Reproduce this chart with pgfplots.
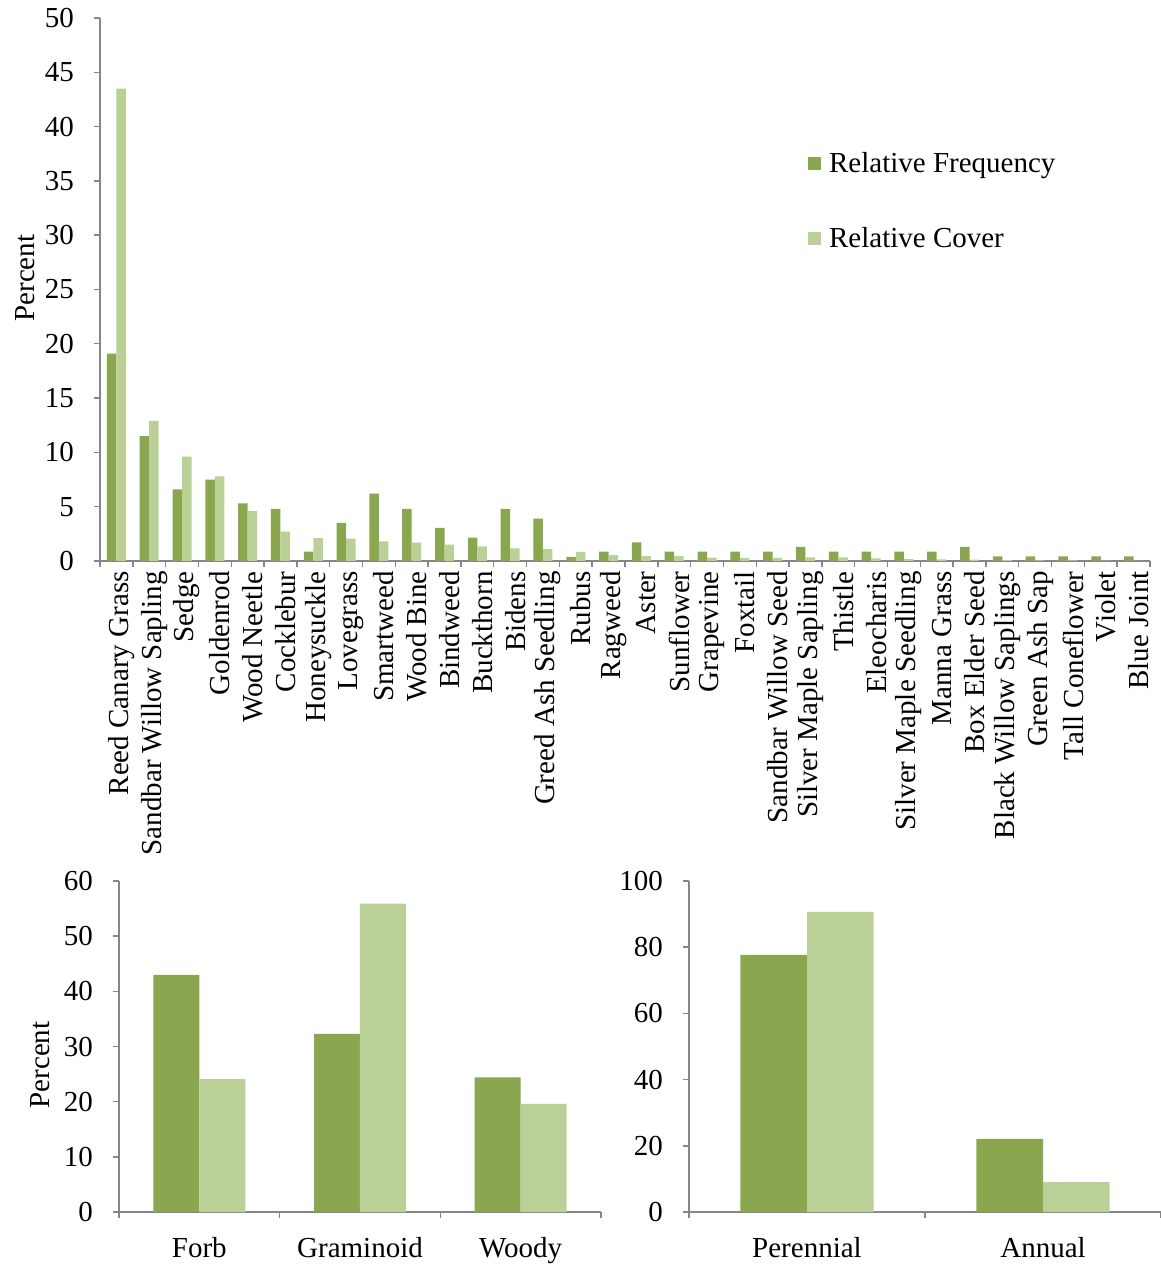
\documentclass[border=0pt]{standalone}
\usepackage{fontspec}
\setmainfont{Liberation Serif}
\usepackage{pgfplots}
\pgfplotsset{compat=1.18}
\definecolor{dgreen}{RGB}{138,166,78}
\definecolor{lgreen}{RGB}{187,208,151}
\definecolor{axgray}{RGB}{134,134,134}
\newcommand\fsz{\fontsize{14.5}{17}\selectfont}
\pgfplotsset{
  mybase/.style={
    scale only axis,
    axis x line*=bottom, axis y line*=left,
    axis line style={draw=axgray, line width=0.7pt},
    tick style={draw=axgray, line width=0.7pt},
    tick align=outside,
    major tick length=3pt, minor tick length=3pt,
    tick label style={font=\fsz, text=black},
    yticklabel style={xshift=-6.5pt},
    label style={font=\fsz},
    /pgf/number format/assume math mode=true,
    ymin=0,
    ybar=0pt,
    major x tick style={draw=none},
    legend style={font=\fsz},
  },
}
\begin{document}
\begin{tikzpicture}
\useasboundingbox (0,0) rectangle (580.5pt,633pt);
% ---------- top chart ----------
\begin{axis}[mybase,
  at={(50pt,352.5pt)}, anchor=south west,
  width=525pt, height=271.5pt,
  xmin=-0.5, xmax=31.5, ymax=50,
  ytick={0,5,...,50},
  bar width=0.29,
  xtick={0,...,31},
  minor xtick={-0.5,0.5,...,31.5},
  xticklabels={Reed Canary Grass,Sandbar Willow Sapling,Sedge,Goldenrod,Wood Neetle,Cocklebur,Honeysuckle,Lovegrass,Smartweed,Wood Bine,Bindweed,Buckthorn,Bidens,Greed Ash Seedling,Rubus,Ragweed,Aster,Sunflower,Grapevine,Foxtail,Sandbar Willow Seed,Silver Maple Sapling,Thistle,Eleocharis,Silver Maple Seedling,Manna Grass,Box Elder Seed,Black Willow Saplings,Green Ash Sap,Tall Coneflower,Violet,Blue Joint},
  xticklabel style={rotate=90, anchor=east, inner sep=2pt, yshift=-2.5pt},
  ylabel={Percent},
  ylabel style={at={(axis description cs:-0.0714,0.521)}, anchor=center},
  legend style={draw=none, fill=none, at={(0.674,0.761)}, anchor=north west,
    inner sep=0pt, row sep=22pt, column sep=2pt, cells={anchor=west}},
  legend image code/.code={\fill[#1] (0pt,-3.25pt) rectangle (6.5pt,3.25pt);},
]
\addplot[fill=dgreen, draw=none] coordinates {
(0,19.1) (1,11.5) (2,6.6) (3,7.5) (4,5.3) (5,4.8) (6,0.86) (7,3.5)
(8,6.2) (9,4.8) (10,3.05) (11,2.15) (12,4.8) (13,3.9) (14,0.37) (15,0.86)
(16,1.72) (17,0.86) (18,0.86) (19,0.86) (20,0.86) (21,1.29) (22,0.86) (23,0.86)
(24,0.86) (25,0.86) (26,1.29) (27,0.43) (28,0.43) (29,0.43) (30,0.43) (31,0.43)};
\addplot[fill=lgreen, draw=none] coordinates {
(0,43.5) (1,12.9) (2,9.6) (3,7.8) (4,4.6) (5,2.7) (6,2.1) (7,2.05)
(8,1.8) (9,1.7) (10,1.5) (11,1.35) (12,1.17) (13,1.1) (14,0.83) (15,0.55)
(16,0.46) (17,0.46) (18,0.31) (19,0.28) (20,0.28) (21,0.34) (22,0.34) (23,0.25)
(24,0.18) (25,0.15) (26,0.12) (27,0.09) (28,0.06) (29,0.05) (30,0.04) (31,0.02)};
\legend{Relative Frequency, Relative Cover}
\end{axis}
% ---------- bottom left ----------
\begin{axis}[mybase,
  at={(59.5pt,27pt)}, anchor=south west,
  width=241pt, height=165.5pt,
  xmin=-0.5, xmax=2.5, ymax=60,
  ytick={0,10,...,60},
  bar width=0.286,
  xtick={0,1,2}, xticklabels={Forb,Graminoid,Woody},
  xticklabel style={yshift=-6pt},
  minor xtick={-0.5,0.5,1.5,2.5},
  ylabel={Percent},
  ylabel style={at={(axis description cs:-0.164,0.444)}, anchor=center},
]
\addplot[fill=dgreen, draw=none] coordinates {(0,43.0) (1,32.3) (2,24.4)};
\addplot[fill=lgreen, draw=none] coordinates {(0,24.1) (1,55.9) (2,19.6)};
\end{axis}
% ---------- bottom right ----------
\begin{axis}[mybase,
  at={(344.5pt,27pt)}, anchor=south west,
  width=236pt, height=165.5pt,
  xmin=-0.5, xmax=1.5, ymax=100,
  ytick={0,20,...,100},
  bar width=0.282,
  xtick={0,1}, xticklabels={Perennial,Annual},
  xticklabel style={yshift=-6pt},
  minor xtick={-0.5,0.5,1.5},
]
\addplot[fill=dgreen, draw=none] coordinates {(0,77.7) (1,22.1)};
\addplot[fill=lgreen, draw=none] coordinates {(0,90.7) (1,9.0)};
\end{axis}
\end{tikzpicture}
\end{document}
